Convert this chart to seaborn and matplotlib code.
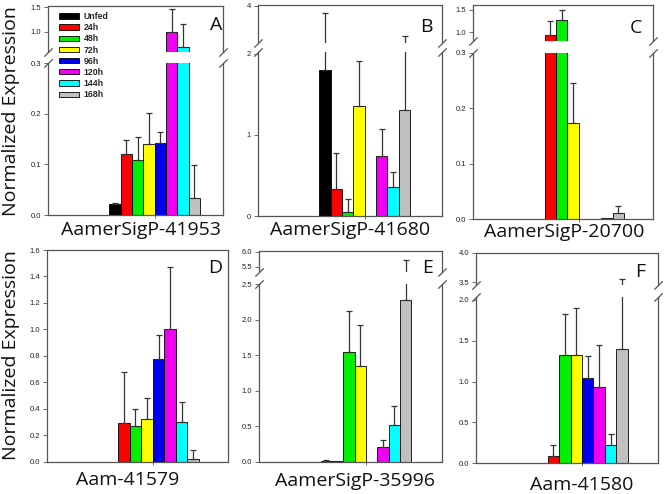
import numpy as np
import pandas as pd
import matplotlib
matplotlib.use('Agg')
import matplotlib.pyplot as plt
from matplotlib.patches import Patch
import seaborn as sns

# ── Styling ────────────────────────────────────────────────
sns.set_theme(style="white")
plt.rcParams['font.family'] = ['Liberation Sans', 'DejaVu Sans']
LABEL_FONT = 'Open Sans'
FRAME = '#555555'

W, H = 669, 494

# ── Data ───────────────────────────────────────────────────
times = ['Unfed', '24h', '48h', '72h', '96h', '120h', '144h', '168h']
colors = ['#000000', '#FF0000', '#00F000', '#FFFF00', '#0000F0', '#F000F0', '#00FFFF', '#C0C0C0']

genes = ['AamerSigP-41953', 'AamerSigP-41680', 'AamerSigP-20700',
         'Aam-41579', 'AamerSigP-35996', 'Aam-41580']
letters = ['A', 'B', 'C', 'D', 'E', 'F']

mean_a = [0.021, 0.120, 0.109, 0.140, 0.143, 1.00, 0.70, 0.033]
err_a = [0.003, 0.029, 0.044, 0.062, 0.020, 0.46, 0.46, 0.066]

mean_b = [1.80, 0.33, 0.05, 1.35, 0.0, 0.74, 0.36, 1.31]
err_b = [1.91, 0.44, 0.16, 0.56, 0.0, 0.33, 0.18, 1.47]

mean_c = [0.0, 0.95, 1.27, 0.173, 0.0, 0.0, 0.001, 0.010]
err_c = [0.0, 0.31, 0.23, 0.072, 0.0, 0.0, 0.0, 0.013]

mean_d = [0.0, 0.29, 0.27, 0.32, 0.775, 1.00, 0.30, 0.018]
err_d = [0.0, 0.39, 0.13, 0.16, 0.185, 0.47, 0.15, 0.072]

mean_e = [0.015, 0.004, 1.55, 1.35, 0.0, 0.20, 0.52, 2.27]
err_e = [0.005, 0.0, 0.57, 0.58, 0.0, 0.10, 0.26, 3.45]

mean_f = [0.004, 0.09, 1.32, 1.33, 1.04, 0.93, 0.22, 1.40]
err_f = [0.0, 0.13, 0.51, 0.57, 0.27, 0.52, 0.135, 2.16]

means = [mean_a, mean_b, mean_c, mean_d, mean_e, mean_f]
errs = [err_a, err_b, err_c, err_d, err_e, err_f]

# ── Layout (pixel boxes, axis ranges) ──────────────────────
layout = [
    dict(box=(48.3, 222.7, 6, 215), brk=(52, 63), xlim=(-0.94, 0.60),
         up=((0.6, 1.52), [1.0, 1.5]), low=((0, 0.3), [0, 0.1, 0.2, 0.3]), fmt='{:.1f}',
         lab=(141, 235), let=(222, 30)),
    dict(box=(258, 442, 5, 216), brk=(43, 52), xlim=(-0.94, 0.68),
         up=((2.5, 4.03), [4]), low=((0, 2.02), [0, 1, 2]), fmt='{:.0f}',
         lab=(350, 235), let=(433, 32)),
    dict(box=(473, 653, 5, 219), brk=(41, 53), xlim=(-0.93, 0.655),
         up=((0.805, 1.61), [1.0, 1.5]), low=((0, 0.3), [0, 0.1, 0.2, 0.3]), fmt='{:.1f}',
         lab=(564, 237), let=(642, 33)),
    dict(box=(46.7, 227.7, 250, 461.7), brk=None, xlim=(-0.92, 0.65),
         up=None, low=((0, 1.6), list(np.arange(0, 1.61, 0.2))), fmt='{:.1f}',
         lab=(128, 485), let=(222, 273)),
    dict(box=(259.3, 441.7, 250.7, 461.7), brk=(272, 284), xlim=(-0.944, 0.67),
         up=((5.32, 6.03), [5.5, 6.0]), low=((0, 2.5), list(np.arange(0, 2.51, 0.5))), fmt='{:.1f}',
         lab=(355, 486), let=(433, 273)),
    dict(box=(476, 657.7, 252.7, 463.3), brk=(285, 297), xlim=(-0.927, 0.662),
         up=((3.455, 4.0), [3.5, 4.0]), low=((0, 2.035), list(np.arange(0, 2.01, 0.5))), fmt='{:.1f}',
         lab=(582, 490), let=(645, 277)),
]

fig = plt.figure(figsize=(W / 100, H / 100), dpi=100)


def px_axes(l, r, t, b):
    return fig.add_axes([l / W, 1 - b / H, (r - l) / W, (b - t) / H])


def draw_bars(ax, gene, mean, err):
    df = pd.DataFrame({'gene': gene, 'time': times, 'value': mean})
    sns.barplot(data=df, x='gene', y='value', hue='time', hue_order=times,
                palette=colors, saturation=1, errorbar=None, width=0.8,
                edgecolor='black', linewidth=0.6, legend=False, ax=ax)
    for p, m, e in zip(ax.patches, mean, err):
        if e > 0:
            ax.errorbar(p.get_x() + p.get_width() / 2, m, yerr=[[0], [e]], fmt='none',
                        ecolor='#333333', elinewidth=0.9, capsize=2.3, capthick=0.9)


def style(ax, xlim, ylim, yticks, fmt):
    ax.set_xlim(xlim)
    ax.set_ylim(ylim)
    ax.set_yticks(yticks)
    ax.set_yticklabels([fmt.format(v) for v in yticks])
    ax.set_xticks([0])
    ax.set_xticklabels([''])
    ax.set_xlabel('')
    ax.set_ylabel('')
    ax.tick_params(axis='y', left=True, direction='out', length=3, width=0.6, pad=2,
                   labelsize=5.5, labelcolor='#222222', color=FRAME)
    ax.tick_params(axis='x', bottom=True, direction='out', length=2.5, width=0.6, color=FRAME)
    for s in ax.spines.values():
        s.set_color(FRAME)
        s.set_linewidth(0.9)


brk_kw = dict(marker=[(-1, -1), (1, 1)], markersize=6, linestyle='none',
              color=FRAME, mec=FRAME, mew=0.9, clip_on=False)

for gene, mean, err, letter, lay in zip(genes, means, errs, letters, layout):
    l, r, t, b = lay['box']
    if lay['brk'] is None:
        ax = px_axes(l, r, t, b)
        draw_bars(ax, gene, mean, err)
        style(ax, lay['xlim'], lay['low'][0], lay['low'][1], lay['fmt'])
    else:
        ub, lt = lay['brk']
        ax_t = px_axes(l, r, t, ub)
        ax_b = px_axes(l, r, lt, b)
        for ax in (ax_t, ax_b):
            draw_bars(ax, gene, mean, err)
        style(ax_t, lay['xlim'], lay['up'][0], lay['up'][1], lay['fmt'])
        style(ax_b, lay['xlim'], lay['low'][0], lay['low'][1], lay['fmt'])
        ax_t.spines['bottom'].set_visible(False)
        ax_t.tick_params(axis='x', bottom=False)
        ax_b.spines['top'].set_visible(False)
        ax_t.plot([0, 1], [0, 0], transform=ax_t.transAxes, **brk_kw)
        ax_b.plot([0, 1], [1, 1], transform=ax_b.transAxes, **brk_kw)

    cx, cy = lay['lab']
    fig.text(cx / W, 1 - cy / H, gene, ha='center', va='baseline',
             fontsize=14, family=LABEL_FONT, color='#111111')
    lx, ly = lay['let']
    fig.text(lx / W, 1 - ly / H, letter, ha='right', va='baseline',
             fontsize=14, family=LABEL_FONT, color='#111111')

# y labels
for cy in (111, 355):
    fig.text(11 / W, 1 - cy / H, 'Normalized Expression', rotation=90,
             ha='center', va='center', fontsize=14, family=LABEL_FONT, color='#111111')

# legend (panel A)
handles = [Patch(facecolor=c, edgecolor='black', linewidth=0.6, label=t)
           for t, c in zip(times, colors)]
fig.legend(handles=handles, loc='upper left', bbox_to_anchor=(59 / W, 1 - 12 / H),
           frameon=False, prop=dict(weight='bold', size=6.3),
           handlelength=2.3, handleheight=0.55, labelspacing=0.25,
           handletextpad=0.5, borderaxespad=0, borderpad=0)

fig.savefig('out.png', dpi=100, facecolor='white')
